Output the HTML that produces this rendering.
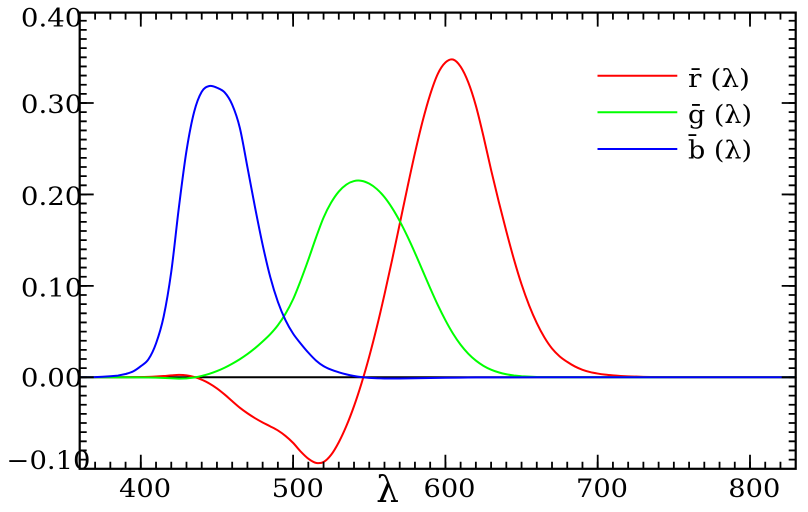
<!DOCTYPE html>
<html><head><meta charset="utf-8"><style>
html,body{margin:0;padding:0;background:#fff;}
svg{display:block;}
text{font-family:"DejaVu Serif","Liberation Serif",serif;fill:#000;}
</style></head><body>
<svg width="808" height="512" viewBox="0 0 808 512" xmlns="http://www.w3.org/2000/svg">
<rect x="0" y="0" width="808" height="512" fill="#fff"/>
<line x1="80" y1="377.3" x2="796" y2="377.3" stroke="#000" stroke-width="2"/>
<g transform="matrix(1.523 0 0 -914.3 -468.4 377.3)" fill="none" stroke-linejoin="round" stroke-linecap="round">
<path vector-effect="non-scaling-stroke" stroke="#ff0000" stroke-width="2" d="M360,0 L380,0.00003 L390,0.0001 L395,0.00017 L400,0.0003 C401.667,0.00035 403.333,0.00038 405,0.00047
S408.333,0.00069 410,0.00084 S413.333,0.00118 415,0.00139 S418.333,0.0019 420,0.00211 S423.333,0.00265 425,0.00266
S428.333,0.00256 430,0.00218 S433.333,0.00116 435,0.00036 S438.333,-0.00143 440,-0.00261 S443.333,-0.00514 445,-0.00673
S448.333,-0.01013 450,-0.01213 S453.333,-0.01642 455,-0.01874 S458.333,-0.02366 460,-0.02608 S463.333,-0.03103 465,-0.03324
S468.333,-0.03742 470,-0.03933 S473.333,-0.04303 475,-0.04471 S478.333,-0.0479 480,-0.04939 S483.333,-0.05218 485,-0.05364
S488.333,-0.05639 490,-0.05814 S493.333,-0.06188 495,-0.06414 S498.333,-0.06889 500,-0.07173 S503.333,-0.07832 505,-0.0812
S508.333,-0.08695 510,-0.08901 S513.333,-0.09296 515,-0.09356 S518.333,-0.09411 520,-0.09264 S523.333,-0.08834 525,-0.08473
S528.333,-0.07627 530,-0.07101 S533.333,-0.05974 535,-0.05316 S538.333,-0.03936 540,-0.03152 S543.333,-0.01518 545,-0.00613
S548.333,0.01258 550,0.02279 S553.333,0.04384 555,0.05514 S558.333,0.07839 560,0.0906 S563.333,0.11555 565,0.1284
S568.333,0.15456 570,0.16768 S573.333,0.19422 575,0.20715 S578.333,0.23314 580,0.24526 S583.333,0.26922 585,0.27989
S588.333,0.30062 590,0.30928 S593.333,0.32601 595,0.33184 S598.333,0.34167 600,0.34429 S603.333,0.34832 605,0.34756
S608.333,0.34386 610,0.33971 S613.333,0.32976 615,0.32265 S618.333,0.30694 620,0.29708 S623.333,0.2752 625,0.26348
S628.333,0.23863 630,0.22677 S633.333,0.20351 635,0.19233 S638.333,0.17023 640,0.15968 S643.333,0.13872 645,0.12905
S648.333,0.11008 650,0.10167 S653.333,0.08563 655,0.07857 S658.333,0.06514 660,0.05932 S663.333,0.0483 665,0.04366
S668.333,0.03494 670,0.03149 S673.333,0.02538 675,0.02294 S678.333,0.01872 680,0.01687 S683.333,0.01332 685,0.01187
S688.333,0.00922 690,0.00819 S693.333,0.0064 695,0.00572 S698.333,0.00457 700,0.0041 S703.333,0.00324 705,0.00291
S708.333,0.00234 710,0.0021 S713.333,0.00166 715,0.00148
L720,0.00105 L730,0.00052 L740,0.00025 L750,0.00012 L760,0.00006 L770,0.00003 L780,0 L830,0"/>
<path vector-effect="non-scaling-stroke" stroke="#00ff00" stroke-width="2" d="M360,0 L400,-0.00014 L410,-0.00041 L420,-0.0011 L425,-0.00143 L430,-0.00119 L435,-0.00021 C436.667,0.00024 438.333,0.00082 440,0.00149
S443.333,0.00291 445,0.00379 S448.333,0.00567 450,0.00678 S453.333,0.00912 455,0.01046 S458.333,0.0133 460,0.01485
S463.333,0.01802 465,0.01977 S468.333,0.02337 470,0.02538 S473.333,0.02954 475,0.03183 S478.333,0.03659 480,0.03914
S483.333,0.04417 485,0.04713 S488.333,0.05317 490,0.05689 S493.333,0.06474 495,0.06948 S498.333,0.07929 500,0.08536
S503.333,0.09872 505,0.10593 S508.333,0.12082 510,0.1286 S513.333,0.14494 515,0.15262 S518.333,0.16826 520,0.17468
S523.333,0.18638 525,0.19113 S528.333,0.19989 530,0.20317 S533.333,0.20892 535,0.21083 S538.333,0.21399 540,0.21466
S543.333,0.21535 545,0.21487 S548.333,0.21328 550,0.21178 S553.333,0.20834 555,0.20588 S558.333,0.20046 560,0.19702
S563.333,0.18958 565,0.18522 S568.333,0.17603 570,0.17087 S573.333,0.16009 575,0.15429 S578.333,0.14234 580,0.1361
S583.333,0.12329 585,0.11686 S588.333,0.10384 590,0.09754 S593.333,0.08494 595,0.07909 S598.333,0.06768 600,0.06246
S603.333,0.05224 605,0.04776 S608.333,0.03923 610,0.03557 S613.333,0.02871 615,0.02583 S618.333,0.0205 620,0.01828
S623.333,0.01419 625,0.01253 S628.333,0.00952 630,0.00833 S633.333,0.0062 635,0.00537 S638.333,0.0039 640,0.00334
S643.333,0.00235 645,0.00199
L650,0.00116 L660,0.00037 L670,0.00011 L680,0.00003 L690,0 L830,0"/>
<path vector-effect="non-scaling-stroke" stroke="#0000ff" stroke-width="2" d="M360,0 L370,0.0002 L375,0.0006 L380,0.00117 L385,0.00189 L390,0.00359 C391.667,0.00435 393.333,0.00505 395,0.00647
S398.333,0.00994 400,0.01214 S403.333,0.01554 405,0.01969 S408.333,0.02929 410,0.03707 S413.333,0.05331 415,0.06637
S418.333,0.09551 420,0.11541 S423.333,0.1637 425,0.18575 S428.333,0.2303 430,0.24769 S433.333,0.27936 435,0.29012
S438.333,0.30753 440,0.31228 S443.333,0.31786 445,0.3186 S448.333,0.31786 450,0.3167 S453.333,0.31474 455,0.31166
S458.333,0.30466 460,0.29821 S463.333,0.28433 465,0.27295 S468.333,0.24442 470,0.22991 S473.333,0.20008 475,0.18592
S478.333,0.15765 480,0.14494 S483.333,0.12008 485,0.10968 S488.333,0.09044 490,0.08257 S493.333,0.06826 495,0.06246
S498.333,0.05202 500,0.04776 S503.333,0.04034 505,0.03688 S508.333,0.03006 510,0.02698 S513.333,0.02088 515,0.01842
S518.333,0.0139 520,0.01221 S523.333,0.00942 525,0.0083 S528.333,0.00634 530,0.00549 S533.333,0.00387 535,0.0032
S538.333,0.00196 540,0.00146 S543.333,0.00057 545,0.00023 S548.333,-0.00037 550,-0.00058
L555,-0.00105 L560,-0.0013 L565,-0.00138 L570,-0.00135 L580,-0.00108 L590,-0.00079 L600,-0.00049 L610,-0.0003 L620,-0.00015 L630,-0.00008 L640,-0.00003 L660,0 L830,0"/>
</g>
<rect x="79.7" y="12.6" width="716" height="456.2" fill="none" stroke="#000" stroke-width="2.2"/>
<g stroke="#000" stroke-width="1.8" fill="none">
<path d="M95.11,468.8v-7m15.23,7v-7m15.23,7v-7m15.23,7v-7m15.23,7v-7m15.23,7v-7m15.23,7v-7m15.23,7v-7m15.23,7v-7m15.23,7v-7m15.23,7v-7m15.23,7v-7m15.23,7v-7m15.23,7v-7m15.23,7v-7m15.23,7v-7m15.23,7v-7m15.23,7v-7m15.23,7v-7m15.23,7v-7m15.23,7v-7m15.23,7v-7m15.23,7v-7m15.23,7v-7m15.23,7v-7m15.23,7v-7m15.23,7v-7m15.23,7v-7m15.23,7v-7m15.23,7v-7m15.23,7v-7m15.23,7v-7m15.23,7v-7m15.23,7v-7m15.23,7v-7m15.23,7v-7m15.23,7v-7m15.23,7v-7m15.23,7v-7m15.23,7v-7m15.23,7v-7m15.23,7v-7m15.23,7v-7m15.23,7v-7m15.23,7v-7m15.23,7v-7"/>
<path d="M95.11,12.6v7m15.23,-7v7m15.23,-7v7m15.23,-7v7m15.23,-7v7m15.23,-7v7m15.23,-7v7m15.23,-7v7m15.23,-7v7m15.23,-7v7m15.23,-7v7m15.23,-7v7m15.23,-7v7m15.23,-7v7m15.23,-7v7m15.23,-7v7m15.23,-7v7m15.23,-7v7m15.23,-7v7m15.23,-7v7m15.23,-7v7m15.23,-7v7m15.23,-7v7m15.23,-7v7m15.23,-7v7m15.23,-7v7m15.23,-7v7m15.23,-7v7m15.23,-7v7m15.23,-7v7m15.23,-7v7m15.23,-7v7m15.23,-7v7m15.23,-7v7m15.23,-7v7m15.23,-7v7m15.23,-7v7m15.23,-7v7m15.23,-7v7m15.23,-7v7m15.23,-7v7m15.23,-7v7m15.23,-7v7m15.23,-7v7m15.23,-7v7m15.23,-7v7"/>
<path d="M140.8,468.8v-14M293.1,468.8v-14M445.4,468.8v-14M597.7,468.8v-14M750,468.8v-14M140.8,12.6v14M293.1,12.6v14M445.4,12.6v14M597.7,12.6v14M750,12.6v14"/>
<path d="M79.7,459.59h7m-7,-9.143h7m-7,-9.143h7m-7,-9.143h7m-7,-9.143h7m-7,-9.143h7m-7,-9.143h7m-7,-9.143h7m-7,-9.143h7m-7,-9.143h7m-7,-9.143h7m-7,-9.143h7m-7,-9.143h7m-7,-9.143h7m-7,-9.143h7m-7,-9.143h7m-7,-9.143h7m-7,-9.143h7m-7,-9.143h7m-7,-9.143h7m-7,-9.143h7m-7,-9.143h7m-7,-9.143h7m-7,-9.143h7m-7,-9.143h7m-7,-9.143h7m-7,-9.143h7m-7,-9.143h7m-7,-9.143h7m-7,-9.143h7m-7,-9.143h7m-7,-9.143h7m-7,-9.143h7m-7,-9.143h7m-7,-9.143h7m-7,-9.143h7m-7,-9.143h7m-7,-9.143h7m-7,-9.143h7m-7,-9.143h7m-7,-9.143h7m-7,-9.143h7m-7,-9.143h7m-7,-9.143h7m-7,-9.143h7m-7,-9.143h7m-7,-9.143h7m-7,-9.143h7m-7,-9.143h7"/>
<path d="M795.7,459.59h-7m7,-9.143h-7m7,-9.143h-7m7,-9.143h-7m7,-9.143h-7m7,-9.143h-7m7,-9.143h-7m7,-9.143h-7m7,-9.143h-7m7,-9.143h-7m7,-9.143h-7m7,-9.143h-7m7,-9.143h-7m7,-9.143h-7m7,-9.143h-7m7,-9.143h-7m7,-9.143h-7m7,-9.143h-7m7,-9.143h-7m7,-9.143h-7m7,-9.143h-7m7,-9.143h-7m7,-9.143h-7m7,-9.143h-7m7,-9.143h-7m7,-9.143h-7m7,-9.143h-7m7,-9.143h-7m7,-9.143h-7m7,-9.143h-7m7,-9.143h-7m7,-9.143h-7m7,-9.143h-7m7,-9.143h-7m7,-9.143h-7m7,-9.143h-7m7,-9.143h-7m7,-9.143h-7m7,-9.143h-7m7,-9.143h-7m7,-9.143h-7m7,-9.143h-7m7,-9.143h-7m7,-9.143h-7m7,-9.143h-7m7,-9.143h-7m7,-9.143h-7m7,-9.143h-7m7,-9.143h-7"/>
<path d="M79.7,377.3h14M79.7,285.87h14M79.7,194.44h14M79.7,103.01h14M795.7,377.3h-14M795.7,285.87h-14M795.7,194.44h-14M795.7,103.01h-14"/>
</g>
<line x1="597.5" y1="75.7" x2="677.3" y2="75.7" stroke="#ff0000" stroke-width="2"/>
<line x1="597.5" y1="112.3" x2="677.3" y2="112.3" stroke="#00ff00" stroke-width="2"/>
<line x1="597.5" y1="149" x2="677.3" y2="149" stroke="#0000ff" stroke-width="2"/>
<g font-size="25">
<text x="688" y="87" textLength="62" lengthAdjust="spacingAndGlyphs">r&#772; (λ)</text>
<text x="688" y="123" textLength="64" lengthAdjust="spacingAndGlyphs">g&#772; (λ)</text>
<text x="688" y="158.5" textLength="64" lengthAdjust="spacingAndGlyphs">b&#772; (λ)</text>
</g>
<g font-size="25" text-anchor="end">
<text x="82.4" y="26.7" textLength="61.5" lengthAdjust="spacingAndGlyphs">0.40</text>
<text x="82.4" y="113" textLength="61.5" lengthAdjust="spacingAndGlyphs">0.30</text>
<text x="82.4" y="205" textLength="61.5" lengthAdjust="spacingAndGlyphs">0.20</text>
<text x="82.4" y="296.7" textLength="61.5" lengthAdjust="spacingAndGlyphs">0.10</text>
<text x="82.4" y="386.7" textLength="61.5" lengthAdjust="spacingAndGlyphs">0.00</text>
<text x="90.5" y="469" textLength="84" lengthAdjust="spacingAndGlyphs">−0.10</text>
</g>
<g font-size="25" text-anchor="middle">
<text x="145.1" y="497" textLength="52" lengthAdjust="spacingAndGlyphs">400</text>
<text x="297.8" y="497" textLength="52" lengthAdjust="spacingAndGlyphs">500</text>
<text x="449.5" y="497" textLength="52" lengthAdjust="spacingAndGlyphs">600</text>
<text x="602" y="497" textLength="52" lengthAdjust="spacingAndGlyphs">700</text>
<text x="754.3" y="497" textLength="52" lengthAdjust="spacingAndGlyphs">800</text>
</g>
<text x="387.5" y="502" font-size="36" text-anchor="middle">λ</text>
</svg>
</body></html>
